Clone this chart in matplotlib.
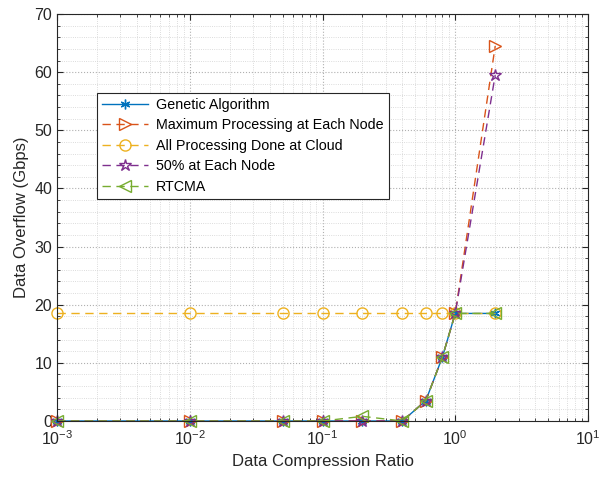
import numpy as np
import matplotlib
matplotlib.use("Agg")
import matplotlib.pyplot as plt
from matplotlib.ticker import MultipleLocator, LogLocator

plt.rcParams['font.family'] = ['Liberation Sans', 'DejaVu Sans']
plt.rcParams['mathtext.fontset'] = 'custom'
plt.rcParams['mathtext.rm'] = 'Liberation Sans'
plt.rcParams['mathtext.it'] = 'Liberation Sans'
plt.rcParams['mathtext.default'] = 'rm'

# compression ratios and overflow per strategy
ratio = [0.001, 0.01, 0.05, 0.1, 0.2, 0.4, 0.6, 0.8, 1.0, 2.0]
genetic = [0, 0, 0, 0, 0, 0, 3.5, 11, 18.5, 18.5]
max_node = [0, 0, 0, 0, 0, 0, 3.5, 11, 18.5, 64.5]
cloud = [18.5, 18.5, 18.5, 18.5, 18.5, 18.5, 18.5, 18.5, 18.5, 18.5]
half_node = [0, 0, 0, 0, 0, 0, 3.5, 11, 18.5, 59.5]
rtcma = [0, 0, 0, 0, 0.8, 0, 3.5, 11, 18.5, 18.5]

labels = ['Genetic Algorithm', 'Maximum Processing at Each Node',
          'All Processing Done at Cloud', '50% at Each Node', 'RTCMA']
colors = ['#0072bd', '#d95319', '#edb120', '#7e2f8e', '#77ac30']

fig = plt.figure(figsize=(6.06, 4.79), dpi=100)
ax = fig.add_axes([57/606, 1 - 421/479, 531/606, 407/479])

dash = (6, 4)
ax.plot(ratio, genetic, linestyle='-', color=colors[0], marker=(6, 2, 0),
        ms=7, mec=colors[0], lw=1.0, label=labels[0], clip_on=False)
ax.plot(ratio, max_node, linestyle='--', dashes=dash, color=colors[1],
        marker='>', ms=8, mfc='none', mec=colors[1], lw=1.0, label=labels[1],
        clip_on=False)
ax.plot(ratio, cloud, linestyle='--', dashes=dash, color=colors[2],
        marker='o', ms=8, mfc='none', mec=colors[2], lw=1.0, label=labels[2],
        clip_on=False)
ax.plot(ratio, half_node, linestyle='--', dashes=dash, color=colors[3],
        marker='*', ms=9, mfc='none', mec=colors[3], lw=1.0, label=labels[3],
        clip_on=False)
ax.plot(ratio, rtcma, linestyle='--', dashes=dash, color=colors[4],
        marker='<', ms=8, mfc='none', mec=colors[4], lw=1.0, label=labels[4],
        clip_on=False)

ax.set_xscale('log')
ax.set_xlim(1e-3, 1e1)
ax.set_ylim(0, 70)
ax.yaxis.set_major_locator(MultipleLocator(10))
ax.yaxis.set_minor_locator(MultipleLocator(2))
ax.xaxis.set_minor_locator(LogLocator(base=10, subs=np.arange(2, 10)))

ax.grid(True, which='major', linestyle=':', color='#b0b0b0', lw=0.8)
ax.grid(True, which='minor', linestyle=':', color='#d0d0d0', lw=0.6)
ax.tick_params(which='both', direction='in', top=True, right=True,
               labelsize=11.5, colors='#262626', labelcolor='#262626')
ax.tick_params(which='major', length=4)
ax.tick_params(which='minor', length=2)
ax.tick_params(axis='x', pad=6)
for s in ax.spines.values():
    s.set_color('#262626')
    s.set_linewidth(0.8)

ax.set_xlabel('Data Compression Ratio', fontsize=12, color='#262626')
ax.set_ylabel('Data Overflow (Gbps)', fontsize=12, color='#262626')

leg = ax.legend(loc='upper left', bbox_to_anchor=(40/531, 1 - 79/407),
                fontsize=10.3, fancybox=False, framealpha=1,
                edgecolor='#262626', borderpad=0.35, labelspacing=0.45,
                handlelength=3.2, handletextpad=0.6, borderaxespad=0)
leg.get_frame().set_linewidth(0.8)
leg.set_zorder(5)

fig.savefig('out.png', dpi=100)
